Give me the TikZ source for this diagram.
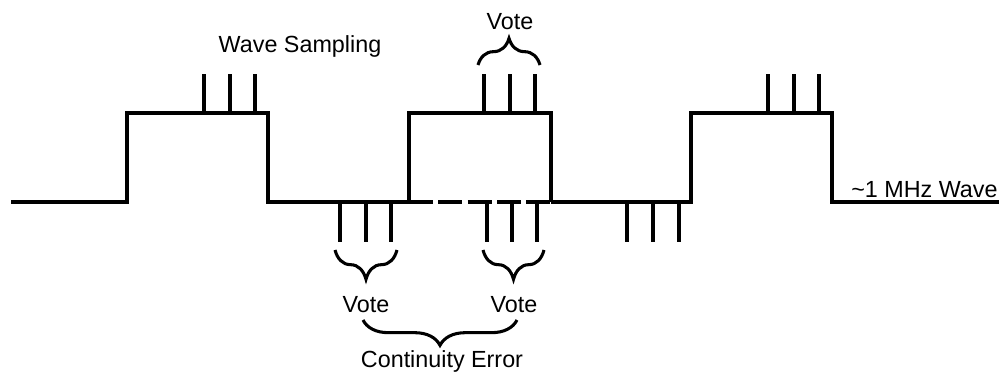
\documentclass[tikz,border=0pt]{standalone}
\usepackage{fontspec}
\setmainfont{Liberation Sans}
\usetikzlibrary{decorations.pathreplacing}

\begin{document}
\begin{tikzpicture}[x=0.75pt,y=-0.75pt,
  wave/.style={line width=2.3pt,line join=miter},
  smp/.style={line width=2.3pt},
  brup/.style={line width=2.3pt,decorate,decoration={brace,amplitude=#1}},
  brdn/.style={line width=2.3pt,decorate,decoration={brace,mirror,amplitude=#1}},
  lbl/.style={inner sep=0pt,anchor=base,font=\fontsize{17.5}{20}\selectfont}]
 \useasboundingbox (0,0) rectangle (1008,379);
 % square wave, low level 202 and high level 113
 \draw[wave] (11,202) -- (127,202) -- (127,113) -- (268,113) -- (268,202) -- (409,202)
   -- (409,113) -- (551,113) -- (551,202);
 \draw[wave] (551,202) -- (691,202) -- (691,113) -- (832,113) -- (832,202) -- (999,202);
 \draw[wave,dash pattern=on 18pt off 4pt] (409,202) -- (551,202);
 % sampling strobes above the high parts
 \draw[smp] (204,113) -- (204,74);
 \draw[smp] (230,113) -- (230,74);
 \draw[smp] (255,113) -- (255,74);
 \draw[smp] (484,113) -- (484,74);
 \draw[smp] (510,113) -- (510,74);
 \draw[smp] (535,113) -- (535,74);
 \draw[smp] (768,113) -- (768,74);
 \draw[smp] (794,113) -- (794,74);
 \draw[smp] (819,113) -- (819,74);
 % sampling strobes below the low parts
 \draw[smp] (340,202) -- (340,242);
 \draw[smp] (366,202) -- (366,242);
 \draw[smp] (391,202) -- (391,242);
 \draw[smp] (487,202) -- (487,242);
 \draw[smp] (512,202) -- (512,242);
 \draw[smp] (537,202) -- (537,242);
 \draw[smp] (627,202) -- (627,242);
 \draw[smp] (653,202) -- (653,242);
 \draw[smp] (679,202) -- (679,242);
 % labels
 \node (sampling) at (300,52) [lbl] {Wave Sampling};
 \node (vote top) at (510,29) [lbl] {Vote};
 \node (vote left) at (366,312) [lbl] {Vote};
 \node (vote right) at (514,312) [lbl] {Vote};
 \node (cont err) at (442,367) [lbl] {Continuity Error};
 \node (mhz) at (851,197) [lbl,anchor=base west] {\textasciitilde 1 MHz Wave};
 % braces
 \coordinate (bt a) at (478,65);
 \coordinate (bt b) at (540,65);
 \coordinate (bl a) at (335,250);
 \coordinate (bl b) at (397,250);
 \coordinate (br a) at (483,250);
 \coordinate (br b) at (544,250);
 \coordinate (bc a) at (363,320);
 \coordinate (bc b) at (517,320);
 \draw[brup=20pt] (bt a) -- (bt b);
 \draw[brdn=22pt] (bl a) -- (bl b);
 \draw[brdn=22pt] (br a) -- (br b);
 \draw[brdn=19pt] (bc a) -- (bc b);
\end{tikzpicture}
\end{document}
